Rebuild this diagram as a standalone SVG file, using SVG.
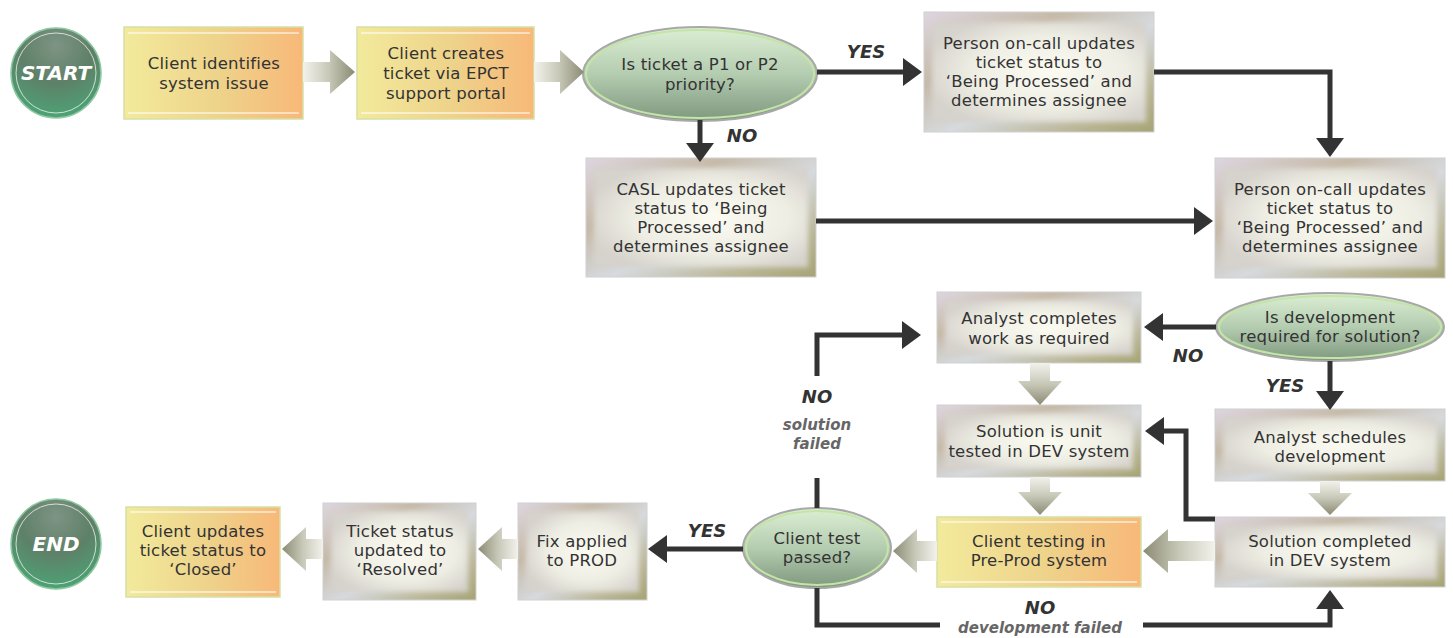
<svg xmlns="http://www.w3.org/2000/svg" width="1453" height="638" viewBox="0 0 1453 638">
<defs>
<style>
.t{font-family:"DejaVu Sans",Verdana,sans-serif;font-size:16.5px;letter-spacing:0.2px;fill:#333;text-anchor:middle}
.lb{font-family:"DejaVu Sans",Verdana,sans-serif;font-size:18px;font-weight:bold;font-style:italic;fill:#333;text-anchor:middle}
.lg{font-family:"DejaVu Sans",Verdana,sans-serif;font-size:15px;font-weight:bold;font-style:italic;fill:#666;text-anchor:middle}
.se{font-family:"DejaVu Sans",Verdana,sans-serif;font-size:20px;font-weight:bold;font-style:italic;fill:#fff;text-anchor:middle}
.cn{fill:none;stroke:#333;stroke-width:5}
.ah{fill:#333}
.mo{fill:url(#metal);stroke:#d0d0d0;stroke-width:1}
.mi{fill:url(#metalIn);filter:url(#soft)}
.yb{fill:url(#yel);stroke:#d6e0a4;stroke-width:1.5}
.yl{stroke:#fff;stroke-opacity:0.7;stroke-width:1.5}
.el{fill:url(#elg);stroke:#a8a8a8;stroke-width:2}
.eli{fill:none;stroke:#c4e4a8;stroke-width:2}
.ci{fill:url(#cirg);stroke:#8cc8a0;stroke-width:1.5}
.cir{fill:none;stroke:#fff;stroke-opacity:0.7;stroke-width:1}
</style>
<linearGradient id="metal" x1="0" y1="0" x2="1" y2="1">
<stop offset="0" stop-color="#ddd6e0"/>
<stop offset="0.3" stop-color="#c6baa8"/>
<stop offset="0.55" stop-color="#d6dade"/>
<stop offset="0.8" stop-color="#bcb89a"/>
<stop offset="1" stop-color="#a6a474"/>
</linearGradient>
<radialGradient id="metalIn" cx="0.55" cy="0.5" r="0.6">
<stop offset="0" stop-color="#fbfbf2"/>
<stop offset="0.6" stop-color="#eeeee4"/>
<stop offset="1" stop-color="#d6d2cc"/>
</radialGradient>
<filter id="soft" x="-10%" y="-10%" width="120%" height="120%"><feGaussianBlur stdDeviation="2.5"/></filter>
<linearGradient id="yel" x1="0" y1="0" x2="1" y2="0">
<stop offset="0" stop-color="#f2ea9c"/>
<stop offset="0.55" stop-color="#eed28a"/>
<stop offset="1" stop-color="#f8b878"/>
</linearGradient>
<linearGradient id="elg" x1="0" y1="0" x2="0" y2="1">
<stop offset="0" stop-color="#dcefd4"/>
<stop offset="0.5" stop-color="#b4ccb0"/>
<stop offset="1" stop-color="#7e987e"/>
</linearGradient>
<radialGradient id="cirg" cx="0.5" cy="0.2" r="0.9">
<stop offset="0" stop-color="#7e9484"/>
<stop offset="0.45" stop-color="#5e8068"/>
<stop offset="1" stop-color="#48ac78"/>
</radialGradient>
<linearGradient id="gR" x1="0" y1="0" x2="1" y2="0">
<stop offset="0" stop-color="#f2f2ec"/><stop offset="0.5" stop-color="#c8c8b8"/><stop offset="1" stop-color="#8a8a74"/>
</linearGradient>
<linearGradient id="gL" x1="1" y1="0" x2="0" y2="0">
<stop offset="0" stop-color="#f2f2ec"/><stop offset="0.5" stop-color="#c8c8b8"/><stop offset="1" stop-color="#8a8a74"/>
</linearGradient>
<linearGradient id="gD" x1="0" y1="0" x2="0" y2="1">
<stop offset="0" stop-color="#f2f2ec"/><stop offset="0.5" stop-color="#c8c8b8"/><stop offset="1" stop-color="#8a8a74"/>
</linearGradient>
<path id="hd" d="M0,0 L-19,-14 L-19,14 Z"/>
</defs>
<rect width="1453" height="638" fill="#fff"/>

<g id="start"><circle class="ci" cx="56" cy="73" r="45"/><circle class="cir" cx="56" cy="73" r="40"/><text class="se" x="56" y="80">START</text></g>
<g id="end"><circle class="ci" cx="56" cy="544" r="45"/><circle class="cir" cx="56" cy="544" r="40"/><text class="se" x="56" y="551">END</text></g>

<g id="n1"><rect class="yb" x="124" y="27" width="179" height="92"/><line class="yl" x1="128" y1="33" x2="299" y2="33"/><line class="yl" x1="128" y1="113" x2="299" y2="113"/>
<text class="t" x="214" y="69">Client identifies</text><text class="t" x="214" y="89">system issue</text></g>
<g id="n2"><rect class="yb" x="357" y="27" width="177" height="92"/><line class="yl" x1="361" y1="33" x2="530" y2="33"/><line class="yl" x1="361" y1="113" x2="530" y2="113"/>
<text class="t" x="446" y="59">Client creates</text><text class="t" x="446" y="79">ticket via EPCT</text><text class="t" x="446" y="99">support portal</text></g>
<g id="d1"><ellipse class="el" cx="700" cy="74" rx="117" ry="47"/><ellipse class="eli" cx="700" cy="74" rx="114" ry="44"/>
<text class="t" x="700" y="70">Is ticket a P1 or P2</text><text class="t" x="700" y="90">priority?</text></g>
<g id="n3"><rect class="mo" x="924" y="12" width="230" height="120"/><rect class="mi" x="932" y="22" width="214" height="100"/>
<text class="t" x="1039" y="49">Person on-call updates</text><text class="t" x="1039" y="68">ticket status to</text><text class="t" x="1039" y="87">‘Being Processed’ and</text><text class="t" x="1039" y="106">determines assignee</text></g>
<g id="n4"><rect class="mo" x="586" y="158" width="230" height="119"/><rect class="mi" x="594" y="168" width="214" height="99"/>
<text class="t" x="701" y="195">CASL updates ticket</text><text class="t" x="701" y="214">status to ‘Being</text><text class="t" x="701" y="233">Processed’ and</text><text class="t" x="701" y="252">determines assignee</text></g>
<g id="n5"><rect class="mo" x="1215" y="158" width="230" height="120"/><rect class="mi" x="1223" y="168" width="214" height="100"/>
<text class="t" x="1330" y="195">Person on-call updates</text><text class="t" x="1330" y="214">ticket status to</text><text class="t" x="1330" y="233">‘Being Processed’ and</text><text class="t" x="1330" y="252">determines assignee</text></g>
<g id="n6"><rect class="mo" x="937" y="292" width="204" height="71"/><rect class="mi" x="945" y="300" width="188" height="55"/>
<text class="t" x="1039" y="324">Analyst completes</text><text class="t" x="1039" y="344">work as required</text></g>
<g id="d2"><ellipse class="el" cx="1330" cy="327" rx="114" ry="34"/><ellipse class="eli" cx="1330" cy="327" rx="111" ry="31"/>
<text class="t" x="1330" y="323">Is development</text><text class="t" x="1330" y="342">required for solution?</text></g>
<g id="n7"><rect class="mo" x="1215" y="409" width="230" height="72"/><rect class="mi" x="1223" y="417" width="214" height="56"/>
<text class="t" x="1330" y="443">Analyst schedules</text><text class="t" x="1330" y="462">development</text></g>
<g id="n8"><rect class="mo" x="937" y="405" width="204" height="72"/><rect class="mi" x="945" y="413" width="188" height="56"/>
<text class="t" x="1039" y="437">Solution is unit</text><text class="t" x="1039" y="457">tested in DEV system</text></g>
<g id="n9"><rect class="mo" x="1215" y="517" width="230" height="70"/><rect class="mi" x="1223" y="525" width="214" height="54"/>
<text class="t" x="1330" y="547">Solution completed</text><text class="t" x="1330" y="566">in DEV system</text></g>
<g id="n10"><rect class="yb" x="937" y="517" width="204" height="70"/><line class="yl" x1="941" y1="522" x2="1137" y2="522"/><line class="yl" x1="941" y1="582" x2="1137" y2="582"/>
<text class="t" x="1039" y="547">Client testing in</text><text class="t" x="1039" y="566">Pre-Prod system</text></g>
<g id="d3"><ellipse class="el" cx="817" cy="548" rx="74" ry="40"/><ellipse class="eli" cx="817" cy="548" rx="71" ry="37"/>
<text class="t" x="817" y="544">Client test</text><text class="t" x="817" y="563">passed?</text></g>
<g id="n11"><rect class="mo" x="518" y="503" width="129" height="97"/><rect class="mi" x="526" y="511" width="113" height="81"/>
<text class="t" x="582" y="547">Fix applied</text><text class="t" x="582" y="566">to PROD</text></g>
<g id="n12"><rect class="mo" x="323" y="503" width="153" height="97"/><rect class="mi" x="331" y="511" width="137" height="81"/>
<text class="t" x="400" y="537">Ticket status</text><text class="t" x="400" y="556">updated to</text><text class="t" x="400" y="575">‘Resolved’</text></g>
<g id="n13"><rect class="yb" x="126" y="507" width="154" height="90"/><line class="yl" x1="130" y1="512" x2="276" y2="512"/><line class="yl" x1="130" y1="592" x2="276" y2="592"/>
<text class="t" x="203" y="537">Client updates</text><text class="t" x="203" y="556">ticket status to</text><text class="t" x="203" y="575">‘Closed’</text></g>

<g id="flow-arrows">
<polygon fill="url(#gR)" points="303,62 330,62 330,50 355,72 330,94 330,82 303,82"/>
<polygon fill="url(#gR)" points="534,62 560,62 560,50 584,72 560,94 560,82 534,82"/>
<polygon fill="url(#gD)" points="1030,363 1050,363 1050,381 1062,381 1040,405 1018,381 1030,381"/>
<polygon fill="url(#gD)" points="1030,477 1050,477 1050,492 1062,492 1040,515 1018,492 1030,492"/>
<polygon fill="url(#gD)" points="1320,481 1340,481 1340,493 1352,493 1330,515 1308,493 1320,493"/>
<polygon fill="url(#gL)" points="1215,541 1168,541 1168,529 1143,551 1168,573 1168,561 1215,561"/>
<polygon fill="url(#gL)" points="937,541 917,541 917,529 893,551 917,573 917,561 937,561"/>
<polygon fill="url(#gL)" points="518,539 502,539 502,527 478,549 502,571 502,559 518,559"/>
<polygon fill="url(#gL)" points="323,539 306,539 306,527 282,549 306,571 306,559 323,559"/>
</g>

<g id="connectors">
<path class="cn" d="M817,72 H905"/><use href="#hd" class="ah" transform="translate(922,72)"/>
<path class="cn" d="M1154,72 H1330 V140"/><use href="#hd" class="ah" transform="translate(1330,157) rotate(90)"/>
<path class="cn" d="M700,120 V145"/><use href="#hd" class="ah" transform="translate(700,162) rotate(90)"/>
<path class="cn" d="M816,221 H1196"/><use href="#hd" class="ah" transform="translate(1213,221)"/>
<path class="cn" d="M1216,327 H1161"/><use href="#hd" class="ah" transform="translate(1144,327) rotate(180)"/>
<path class="cn" d="M1330,361 V393"/><use href="#hd" class="ah" transform="translate(1330,410) rotate(90)"/>
<path class="cn" d="M1215,519 H1186 V431 H1162"/><use href="#hd" class="ah" transform="translate(1145,431) rotate(180)"/>
<path class="cn" d="M817,508 V478"/>
<path class="cn" d="M817,376 V335 H904"/><use href="#hd" class="ah" transform="translate(921,335)"/>
<path class="cn" d="M817,588 V625 H940"/>
<path class="cn" d="M1143,625 H1330 V607"/><use href="#hd" class="ah" transform="translate(1330,590) rotate(-90)"/>
<path class="cn" d="M743,549 H665"/><use href="#hd" class="ah" transform="translate(648,549) rotate(180)"/>
</g>

<g id="labels">
<text class="lb" x="866" y="58">YES</text>
<text class="lb" x="742" y="142">NO</text>
<text class="lb" x="1188" y="362">NO</text>
<text class="lb" x="1285" y="392">YES</text>
<text class="lb" x="817" y="403">NO</text>
<text class="lg" x="817" y="430">solution</text>
<text class="lg" x="817" y="449">failed</text>
<text class="lb" x="1040" y="614">NO</text>
<text class="lg" x="1040" y="633">development failed</text>
</g>
<g id="labels2">
<text class="lb" x="707" y="537">YES</text>
</g>
</svg>
